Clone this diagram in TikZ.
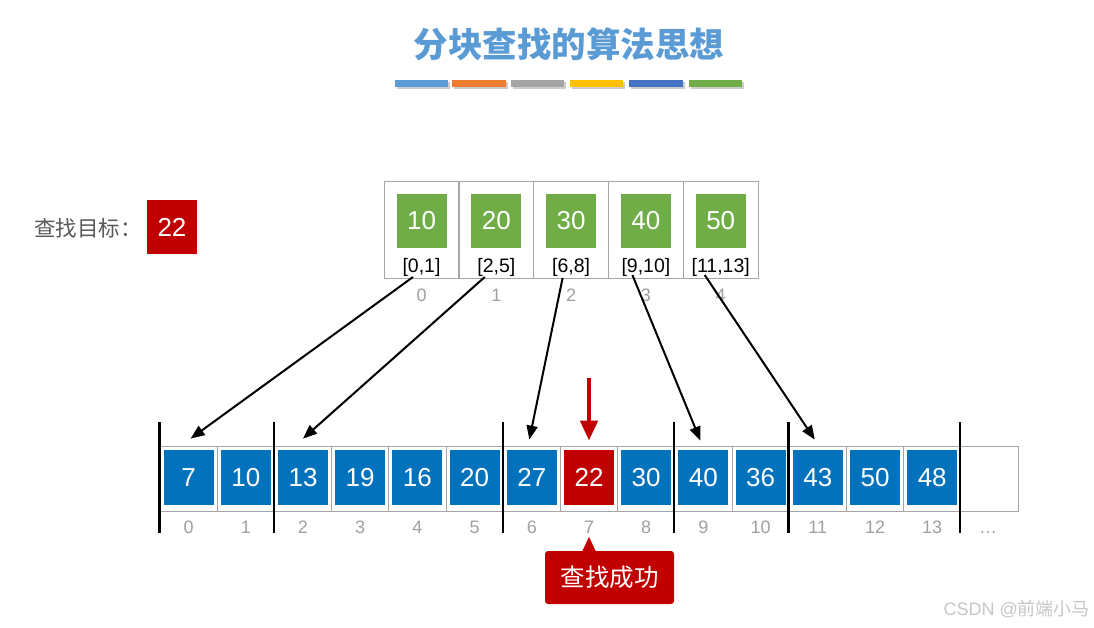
\documentclass[tikz,border=0pt]{standalone}
\usepackage{fontspec}
\setmainfont{Liberation Sans}
\newfontfamily\cjk{Noto Sans CJK SC}
\usetikzlibrary{arrows.meta,calc}
\definecolor{ttlblue}{HTML}{5B9BD5}
\definecolor{barA}{HTML}{5B9BD5}
\definecolor{barB}{HTML}{ED7D31}
\definecolor{barC}{HTML}{A5A5A5}
\definecolor{barD}{HTML}{FFC000}
\definecolor{barE}{HTML}{4472C4}
\definecolor{barF}{HTML}{70AD47}
\definecolor{cellblue}{HTML}{0172BB}
\definecolor{cellgreen}{HTML}{70AD47}
\definecolor{cellred}{HTML}{C00000}
\definecolor{gridgray}{HTML}{A6A6A6}
\definecolor{idxgray}{HTML}{A0A0A0}
\definecolor{txtgray}{HTML}{595959}
\tikzset{
  tcell/.style={draw=gridgray, line width=0.8pt, minimum width=75pt, minimum height=97pt, inner sep=0pt},
  bcell/.style={draw=gridgray, line width=0.8pt, minimum width=57.2pt, minimum height=65pt, inner sep=0pt},
  sq/.style={minimum width=50pt, minimum height=54pt, inner sep=0pt, text=white, font=\fontsize{26}{30}\selectfont},
  bsq/.style={minimum width=50pt, minimum height=55pt, inner sep=0pt, text=white, font=\fontsize{26}{30}\selectfont},
  rng/.style={anchor=base, inner sep=0pt, font=\fontsize{19.5}{22}\selectfont},
  idx/.style={anchor=base, inner sep=0pt, text=idxgray, font=\fontsize{18}{20}\selectfont},
  sep/.style={line width=2.5pt, black},
  ptr/.style={line width=2pt, black, -{Triangle[length=14pt,width=11pt]}},
  redptr/.style={line width=4.5pt, cellred, -{Triangle[length=20pt,width=17pt]}},
}
\begin{document}
\begin{tikzpicture}[x=1pt,y=-1pt]
\useasboundingbox[fill=white] (0,0) rectangle (1094,627);
% title
\node[text=ttlblue, font=\cjk\bfseries\fontsize{34.5}{38}\selectfont] (title) at (569,44) {分块查找的算法思想};
\foreach \c/\a/\b in {barA/395/448,barB/452/506,barC/511/564,barD/570/623,barE/629/683,barF/689/742}{
  \fill[black!20] (\a+1.5,81.5) rectangle (\b+1.5,88.5);
  \fill[\c] (\a,80) rectangle (\b,87);
}
% target
\node[anchor=west, inner sep=0pt, text=txtgray, font=\cjk\fontsize{21.5}{24}\selectfont] (tgtlbl) at (34,228) {查找目标：};
\node[sq, fill=cellred] (tgt) at (172,227) {22};
% top index table
\foreach \v/\r [count=\i from 0] in {10/{[0,1]},20/{[2,5]},30/{[6,8]},40/{[9,10]},50/{[11,13]}}{
  \node[tcell] (t\i) at ({421.5+74.8*\i},229.5) {};
  \node[sq, fill=cellgreen] (g\i) at ({421.5+74.8*\i},221) {\v};
  \node[rng] (r\i) at ({421.5+74.8*\i},272) {\r};
  \node[idx] (ti\i) at ({421.5+74.8*\i},301) {\i};
}
% bottom array
\foreach \v/\c [count=\i from 0] in {7/cellblue,10/cellblue,13/cellblue,19/cellblue,16/cellblue,20/cellblue,27/cellblue,22/cellred,30/cellblue,40/cellblue,36/cellblue,43/cellblue,50/cellblue,48/cellblue}{
  \node[bcell] (c\i) at ({188.6+57.2*\i},478.5) {};
  \node[bsq, fill=\c] (v\i) at ({188.6+57.2*\i},477.5) {\v};
  \node[idx] (i\i) at ({188.6+57.2*\i},533) {\i};
}
\node[bcell] (c14) at ({188.6+57.2*14},478.5) {};
\node[idx] (dots) at (988,533) {…};
% block separators
\foreach \x in {159.5,274,503,674,788.5,960}{
  \draw[sep] (\x,422) -- (\x,533);
}
% pointers
\draw[ptr] ($(r0.base)+(-8.5,5)$) -- ($(c0.north)+(2,-7)$);
\draw[ptr] ($(r1.base)+(-11.5,5)$) -- ($(c2.north)+(0,-7)$);
\draw[ptr] ($(r2.base)+(-8.5,6)$) -- ($(c6.north)+(-2.5,-6)$);
\draw[ptr] ($(r3.base)+(-13.5,3)$) -- ($(c9.north)+(-3,-5)$);
\draw[ptr] ($(r4.base)+(-16,3)$) -- ($(c11.north)+(-3,-6)$);
\draw[redptr] ($(c7.north)+(0,-68)$) -- ($(c7.north)+(0,-5)$);
% callout
\node[fill=cellred, rounded corners=3pt, minimum width=129pt, minimum height=53pt, inner sep=0pt, text=white, font=\cjk\fontsize{24.5}{28}\selectfont] (ok) at (609.5,577.5) {查找成功};
\fill[cellred] ($(ok.north -| c7)+(-7,1)$) -- ($(ok.north -| c7)+(0,-14)$) -- ($(ok.north -| c7)+(7,1)$) -- cycle;
% watermark
\node[anchor=east, inner sep=0pt, text=black!22, font=\fontsize{18}{20}\selectfont] (wm) at (1090,609) {CSDN @{\cjk 前端小马}};
\end{tikzpicture}
\end{document}
